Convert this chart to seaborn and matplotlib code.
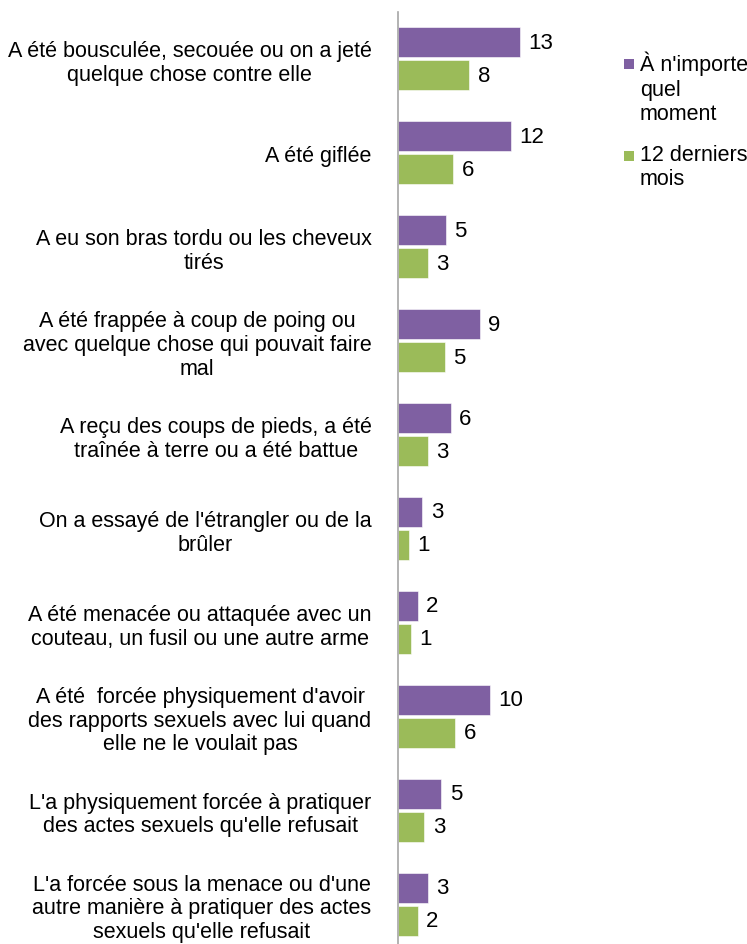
import matplotlib
matplotlib.use("Agg")
import matplotlib.pyplot as plt
import seaborn as sns
import pandas as pd
from matplotlib.patches import Rectangle

categories = [
    "A été bousculée, secouée ou on a jeté\nquelque chose contre elle",
    "A été giflée",
    "A eu son bras tordu ou les cheveux\ntirés",
    "A été frappée à coup de poing ou\navec quelque chose qui pouvait faire\nmal",
    "A reçu des coups de pieds, a été\ntraînée à terre ou a été battue",
    "On a essayé de l'étrangler ou de la\nbrûler",
    "A été menacée ou attaquée avec un\ncouteau, un fusil ou une autre arme",
    "A été  forcée physiquement d'avoir\ndes rapports sexuels avec lui quand\nelle ne le voulait pas",
    "L'a physiquement forcée à pratiquer\ndes actes sexuels qu'elle refusait",
    "L'a forcée sous la menace ou d'une\nautre manière à pratiquer des actes\nsexuels qu'elle refusait",
]
series_names = ["À n'importe quel moment", "12 derniers mois"]
legend_labels = ["À n'importe\nquel\nmoment", "12 derniers\nmois"]
anytime = [13.0, 12.0, 5.1, 8.7, 5.6, 2.6, 2.1, 9.8, 4.6, 3.2]
last12 = [7.6, 5.9, 3.2, 5.0, 3.2, 1.2, 1.4, 6.1, 2.8, 2.1]
colors = ["#7F60A2", "#9BBB59"]

df = pd.DataFrame({
    "cat": categories * 2,
    "serie": [series_names[0]] * len(categories) + [series_names[1]] * len(categories),
    "val": anytime + last12,
})

plt.rcParams['font.family'] = ['Liberation Sans', 'DejaVu Sans']
W, H = 747, 945
fig = plt.figure(figsize=(W / 100, H / 100), dpi=100)
ax = fig.add_axes([398 / W, -7 / H, 188 / W, 939 / H])

sns.barplot(data=df, y="cat", x="val", hue="serie", order=categories,
            hue_order=series_names, palette=colors, orient="h",
            width=0.703, gap=0.09, ax=ax, legend=False,
            edgecolor="white", linewidth=0.4, saturation=1)

for cont in ax.containers:
    ax.bar_label(cont, fmt="%.0f", padding=6, fontsize=16, color="black")

ax.set_xlim(0, 20)
ax.set_ylim(9.5, -0.5)
ax.set_xlabel("")
ax.set_ylabel("")
ax.set_xticks([])
ax.tick_params(axis="y", length=0, pad=19, labelsize=15.5, labelcolor="black")
for lbl in ax.get_yticklabels():
    lbl.set_multialignment("center")
    lbl.set_linespacing(1.17)
for s in ["top", "right", "bottom"]:
    ax.spines[s].set_visible(False)
ax.spines["left"].set_color("#A6A6A6")
ax.spines["left"].set_linewidth(1.2)

# legend (drawn manually so the square sits on the first line)
marker_tops = [60, 152]
text_tops = [52, 145]
for c, lab, my, ty in zip(colors, legend_labels, marker_tops, text_tops):
    fig.patches.append(Rectangle((624 / W, 1 - (my + 10) / H), 10 / W, 10 / H,
                                 transform=fig.transFigure, facecolor=c,
                                 edgecolor="none"))
    fig.text(640 / W, 1 - ty / H, lab, ha="left", va="top",
             fontsize=15.5, linespacing=1.2, color="black")

fig.savefig("out.png", dpi=100)
